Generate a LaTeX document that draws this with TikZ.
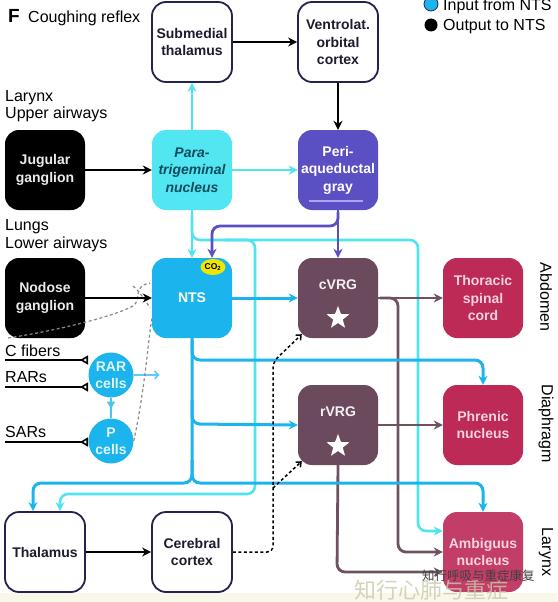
\documentclass[tikz,border=0pt]{standalone}
\usepackage{fontspec}
\setmainfont{Liberation Sans}
\newfontfamily\cjk{Noto Sans CJK SC}
\usetikzlibrary{arrows.meta,shapes.geometric,calc}
\definecolor{navy}{HTML}{23234F}
\definecolor{boxtext}{HTML}{1C1C2E}
\definecolor{paracol}{HTML}{52E5F2}
\definecolor{paratext}{HTML}{0F4C5C}
\definecolor{ntscol}{HTML}{1CB4EC}
\definecolor{pagcol}{HTML}{5B4FC4}
\definecolor{pagline}{HTML}{ABA5F0}
\definecolor{vrgcol}{HTML}{6C4A5E}
\definecolor{vrgline}{HTML}{6E5262}
\definecolor{crim}{HTML}{BD2A56}
\definecolor{crimb}{HTML}{C23E68}
\definecolor{crimtext}{HTML}{F6D2DE}
\definecolor{lcyan}{HTML}{4FE4F0}
\definecolor{dgray}{HTML}{8A8A8A}
\definecolor{beige}{HTML}{F9F6EA}
\definecolor{co2}{HTML}{F0E600}
\definecolor{wmark}{HTML}{C9C9AA}
\begin{document}
\begin{tikzpicture}[x=1pt,y=-1pt,
  box/.style={rectangle, rounded corners=14pt, minimum width=80pt, minimum height=80pt,
    inner sep=0pt, align=center, font=\fontsize{14}{17.5}\selectfont\bfseries},
  wbox/.style={box, draw=navy, line width=1.8pt, fill=white, text=boxtext},
  kbox/.style={box, fill=black, text=white!92!black},
  parabox/.style={box, fill=paracol, text=paratext, font=\fontsize{14}{17.5}\selectfont\bfseries\itshape},
  pagbox/.style={box, fill=pagcol, text=white},
  ntsbox/.style={box, fill=ntscol, text=white},
  vrgbox/.style={box, fill=vrgcol},
  crbox/.style={box, fill=crim, text=crimtext},
  lbl/.style={font=\fontsize{16}{19}\selectfont, inner sep=0pt, anchor=base west},
  side/.style={font=\fontsize{16}{19}\selectfont, inner sep=0pt, rotate=-90},
  cell/.style={circle, fill=ntscol, minimum size=45pt, inner sep=0pt, align=center,
    text=white!88!cyan, font=\fontsize{14}{16.5}\selectfont\bfseries},
  vtxt/.style={text=white!92!vrgcol, font=\fontsize{14}{17}\selectfont\bfseries, inner sep=0pt},
  wstar/.style={star, star points=5, star point ratio=2.4, fill=white, minimum size=24pt, inner sep=0pt},
  tip/.style={-{Stealth[length=9pt,width=9pt]}},
  karrow/.style={tip, line width=2.8pt, black},
  lcarrow/.style={tip, line width=2.6pt, lcyan, rounded corners=8pt},
  barrow/.style={tip, line width=3pt, ntscol, rounded corners=8pt},
  marrow/.style={tip, line width=2.8pt, vrgline, rounded corners=8pt},
  parrow/.style={tip, line width=2.8pt, pagcol, rounded corners=8pt},
  dline/.style={line width=1.5pt, black, dash pattern=on 3pt off 2.5pt, rounded corners=6pt,
    -{Straight Barb[length=4pt,width=7pt]}},
  gline/.style={line width=1.2pt, dgray, dash pattern=on 3pt off 2.5pt},
  nerve/.style={line width=2pt, black, -{Triangle[open,reversed,length=8pt,width=9pt,line width=1.6pt]}},
]
\useasboundingbox (0,0) rectangle (557,602);
\fill[beige] (0,593) rectangle (557,602);

% title and legend
\node[lbl, font=\fontsize{19}{22}\selectfont\bfseries] (F) at (8,23) {F};
\node[lbl] (title) at (28,23) {Coughing reflex};
\node[circle, fill=ntscol, draw=navy, line width=0.8pt, minimum size=14pt, inner sep=0pt] (legin) at (431,4) {};
\node[lbl] (legint) at (443,11) {Input from NTS};
\node[circle, fill=black, minimum size=13pt, inner sep=0pt] (legout) at (431,25) {};
\node[lbl] (legoutt) at (443,30.5) {Output to NTS};

% left labels
\node[lbl] (lar) at (5,101) {Larynx};
\node[lbl] (upa) at (5,118) {Upper airways};
\node[lbl] (lun) at (5,230) {Lungs};
\node[lbl] (loa) at (5,248) {Lower airways};
\node[lbl] (cfib) at (5,356) {C fibers};
\node[lbl] (rars) at (5,382) {RARs};
\node[lbl] (sars) at (5,437) {SARs};

% boxes
\node[wbox] (subm) at (192,42) {Submedial\\thalamus};
\node[wbox] (vlo) at (338,42) {Ventrolat.\\orbital\\cortex};
\node[kbox] (jug) at (45,170) {Jugular\\ganglion};
\node[parabox] (para) at (192,170) {Para-\\trigeminal\\nucleus};
\node[pagbox] (pag) at (338,170) {Peri-\\aqueductal\\gray};
\draw[pagline, line width=1.5pt] ([shift={(-29pt,-31pt)}]pag.center) -- ([shift={(25pt,-31pt)}]pag.center);
\node[kbox] (nod) at (45,298) {Nodose\\ganglion};
\node[ntsbox] (nts) at (192,298) {NTS};
\node[ellipse, fill=co2, minimum width=25pt, minimum height=16pt, inner sep=0pt,
  font=\fontsize{8.5}{9}\selectfont\bfseries] (co) at (213,267) {CO\textsubscript{2}};
\node[vrgbox] (cvrg) at (338,298) {};
\node[vtxt] (cvrgt) at (338,285) {cVRG};
\node[wstar] (cstar) at (338,318) {};
\node[crbox] (tsc) at (483,298) {Thoracic\\spinal\\cord};
\node[vrgbox] (rvrg) at (338,425) {};
\node[vtxt] (rvrgt) at (338,412) {rVRG};
\node[wstar] (rstar) at (338,446) {};
\node[crbox] (phr) at (483,425) {Phrenic\\nucleus};
\node[wbox] (thal) at (45,552) {Thalamus};
\node[wbox] (cc) at (192,552) {Cerebral\\cortex};
\node[crbox, fill=crimb] (amb) at (483,552) {Ambiguus\\nucleus};

% side labels
\node[side] (abd) at (546,297) {Abdomen};
\node[side] (dia) at (546,424) {Diaphragm};
\node[side] (lxr) at (546,552) {Larynx};

% receptor cells
\node[cell] (rar) at (111,375) {RAR\\cells};
\node[cell] (pc) at (111,441) {P\\cells};
\draw[nerve] (5,360) -- (88,360) coordinate (cfend);
\draw[nerve] (5,387) -- (88,387) coordinate (rarend);
\draw[nerve] (5,442) -- (88,442) coordinate (sarend);
\draw[line width=1.6pt, ntscol!80!white] (rar.south) -- (pc.north);
\draw[line width=1.4pt, ntscol!80!white, fill=white, -{Triangle[open,length=7pt,width=8pt,line width=1.4pt]}] (rar.south) -- ++(0,11);
\draw[line width=1.6pt, ntscol!70!white, -{Straight Barb[length=4pt,width=8pt]}] (rar.east) -- ++(26,0) coordinate (rarout);

% gray dashed fibres
\draw[gline] (8,338) .. controls (60,330) and (115,316) .. (133,306) .. controls (142,300) and (132,286) .. (150,283);
\draw[gline] (133,286) .. controls (140,292) and (145,300) .. (150,308);
\draw[gline] (pc.east) .. controls (145,390) and (148,340) .. (152,318);

% black arrows
\draw[karrow] (subm.east) -- (vlo.west);
\draw[karrow] (vlo.south) -- (pag.north);
\draw[karrow] (jug.east) -- (para.west);
\draw[karrow] (nod.east) -- (nts.west);
\draw[karrow] (thal.east) -- (cc.west);

% paratrigeminal outputs (light cyan)
\draw[lcarrow] (para.north) -- (subm.south);
\draw[lcarrow] (para.east) -- (pag.west);
\draw[lcarrow] (para.south) -- (nts.north);
\draw[lcarrow] (192,215) -- (192,240) -- (418,240) -- (418,531) -- ([yshift=21pt]amb.west);
\draw[lcarrow] (225,240) -- (255,240) -- (255,494) -- (60,494) -- ([xshift=15pt]thal.north);

% PAG outputs
\draw[parrow] (pag.south) -- (cvrg.north);
\draw[parrow] (338,212) -- (338,226) -- (212,226) -- ([xshift=20pt]nts.north);

% VRG outputs
\draw[marrow] (cvrg.east) -- (tsc.west);
\draw[marrow] (380,298) -- (398,298) -- (398,552) -- (amb.west);
\draw[marrow] (rvrg.east) -- (phr.west);
\draw[marrow] (rvrg.south) -- (337,572) -- ([yshift=-20pt]amb.west);

% NTS outputs
\draw[barrow] (nts.east) -- (cvrg.west);
\draw[barrow] (192,340) -- (192,360) -- (483,360) -- (phr.north);
\draw[barrow] (192,400) -- (192,424) -- (rvrg.west);
\draw[barrow] (nts.south) -- (192,483) -- (33,483) -- ([xshift=-12pt]thal.north);
\draw[barrow] (192,460) -- (192,483) -- (483,483) -- (amb.north);

% cortical dashed inputs
\draw[dline] (cc.east) -- (273,552) -- (273,362) -- ([shift={(4pt,4pt)}]cvrg.south west);
\draw[dline] (273,488) -- ([shift={(4pt,4pt)}]rvrg.south west);

% watermark
\node[font=\cjk\fontsize{22}{22}\selectfont, text=wmark, opacity=0.8, inner sep=0pt] (wm1) at (431,590) {知行心肺与重症};
\node[font=\cjk\fontsize{12.5}{13}\selectfont, text=black!75, inner sep=0pt, anchor=west] (wm2) at (422,576) {知行呼吸与重症康复};
\end{tikzpicture}
\end{document}
